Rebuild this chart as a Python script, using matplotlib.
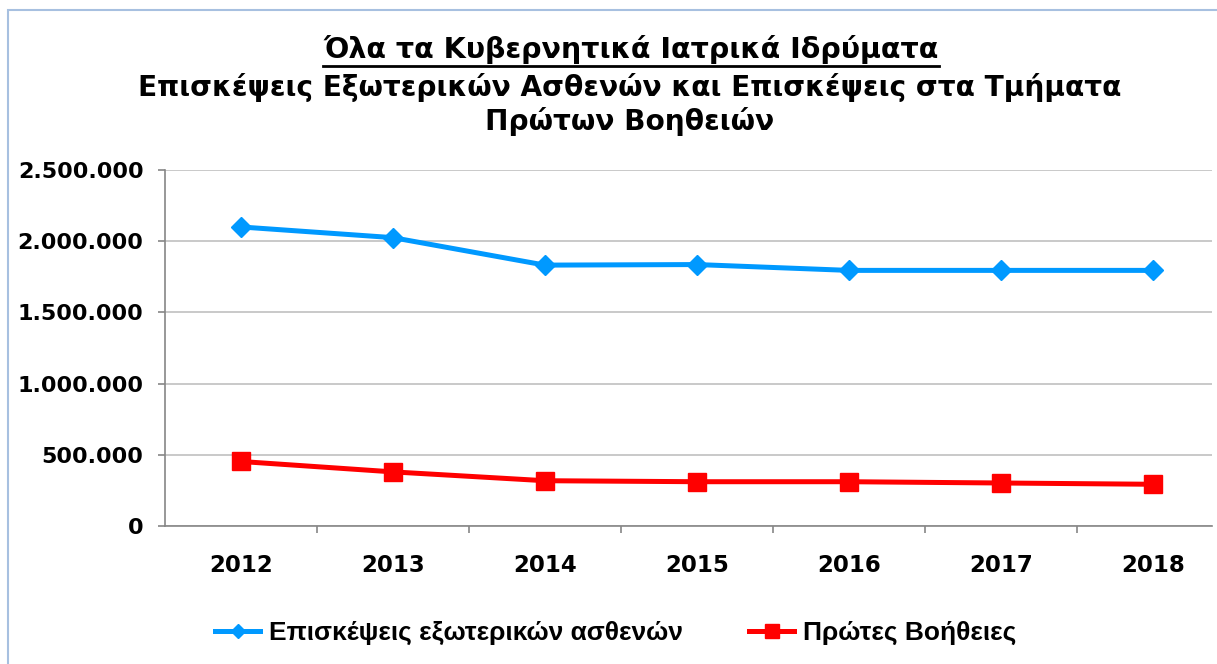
import matplotlib
matplotlib.use("Agg")
import matplotlib.pyplot as plt
from matplotlib.patches import Rectangle
from matplotlib.lines import Line2D
from matplotlib.ticker import FuncFormatter, FixedLocator

# ==========================================
# data
# ==========================================
years = ["2012", "2013", "2014", "2015", "2016", "2017", "2018"]
outpatients = [2100000, 2025000, 1832000, 1836000, 1795000, 1795000, 1795000]
first_aid = [453000, 380000, 318000, 311000, 311000, 302000, 293000]
yticks = [0, 500000, 1000000, 1500000, 2000000, 2500000]

title_1 = "Όλα τα Κυβερνητικά Ιατρικά Ιδρύματα"
title_2 = "Επισκέψεις Εξωτερικών Ασθενών και Επισκέψεις στα Τμήματα"
title_3 = "Πρώτων Βοηθειών"
labels = ["Επισκέψεις εξωτερικών ασθενών", "Πρώτες Βοήθειες"]

BLUE = "#0099ff"
RED = "#ff0000"
GRID = "#c0c0c0"
AXIS = "#868686"

W, H = 1217, 664
fig = plt.figure(figsize=(W / 100, H / 100), dpi=100)

# chart border (runs off the right and bottom edges)
fig.patches.append(Rectangle((8 / W, -0.1), 1.2, 1 - 10 / H + 0.1,
                             transform=fig.transFigure, fill=False,
                             edgecolor="#a7c0e0", linewidth=1.5))

ax = fig.add_axes([165 / W, 1 - 526 / H, (1212 - 165) / W, (526 - 170) / H])
x = list(range(len(years)))

ax.plot(x, outpatients, color=BLUE, lw=3.6, marker="D", ms=10,
        label=labels[0], zorder=3)
ax.plot(x, first_aid, color=RED, lw=3.6, marker="s", ms=13,
        label=labels[1], zorder=3)

ax.set_xlim(-0.5, 6.39)
ax.set_ylim(0, 2500000)
ax.set_yticks(yticks)
ax.yaxis.set_major_formatter(FuncFormatter(lambda v, p: f"{int(v):,}".replace(",", ".")))
ax.set_xticks(x)
ax.set_xticklabels(years)
ax.xaxis.set_minor_locator(FixedLocator([i + 0.5 for i in range(len(years) - 1)]))

ax.grid(axis="y", color=GRID, lw=1.2)
ax.set_axisbelow(True)
for s in ["top", "right"]:
    ax.spines[s].set_visible(False)
for s in ["left", "bottom"]:
    ax.spines[s].set_color(AXIS)
    ax.spines[s].set_linewidth(1.2)

ax.tick_params(axis="y", length=5, color=AXIS, width=1.2, pad=10.5,
               labelsize=16)
ax.tick_params(axis="x", which="major", length=0, pad=20, labelsize=16.5)
ax.tick_params(axis="x", which="minor", length=5, color=AXIS, width=1.2)
for t in ax.get_xticklabels() + ax.get_yticklabels():
    t.set_fontweight("bold")

# titles
fig.text(631 / W, 1 - 50 / H, title_1, ha="center", va="center",
         fontsize=20.5, fontweight="bold")
fig.text(630 / W, 1 - 88 / H, title_2, ha="center", va="center",
         fontsize=20.2, fontweight="bold")
fig.text(630 / W, 1 - 122 / H, title_3, ha="center", va="center",
         fontsize=20.2, fontweight="bold")

# underline first title line
fig.canvas.draw()
t1 = fig.texts[0]
bb = t1.get_window_extent().transformed(fig.transFigure.inverted())
fig.lines.append(Line2D([bb.x0, bb.x1], [1 - 66 / H, 1 - 66 / H],
                        transform=fig.transFigure, color="black", lw=2))

leg = fig.legend(loc="center", bbox_to_anchor=(616 / W, 1 - 633 / H), ncol=2,
                 frameon=False, handlelength=1.7, columnspacing=2.5,
                 handletextpad=0.35, markerscale=0.75,
                 prop={"family": "Liberation Sans", "weight": "bold", "size": 19})

fig.savefig("out.png", dpi=100)
